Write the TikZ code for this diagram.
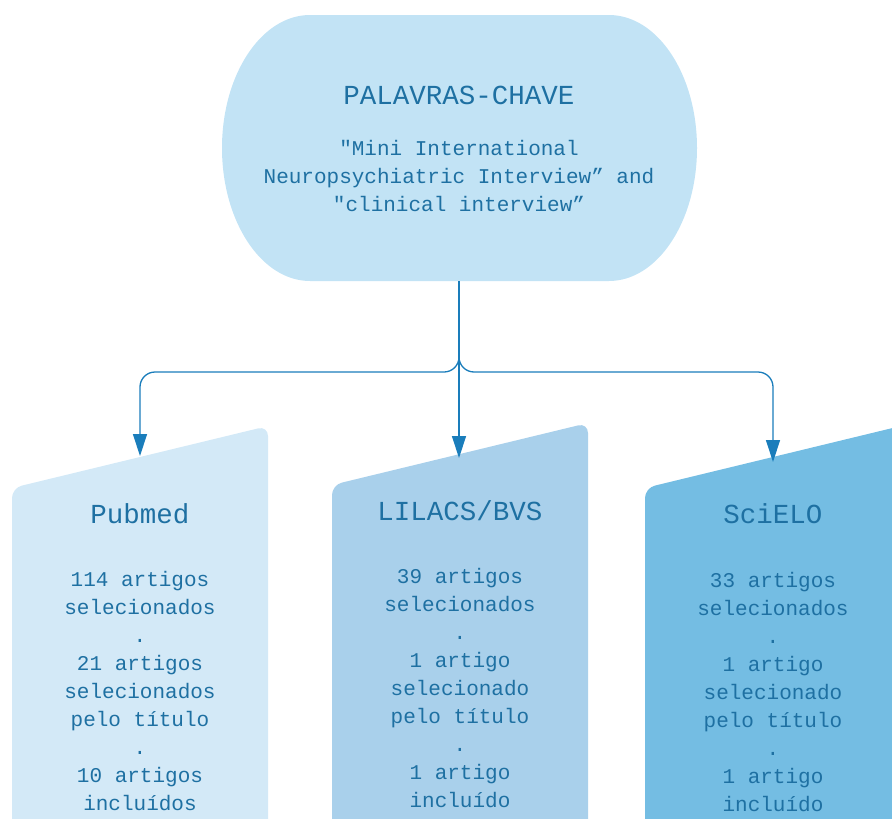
\documentclass[tikz,border=0pt]{standalone}
\usepackage{fontspec}
\newfontfamily\monof{Liberation Mono}
\usetikzlibrary{arrows.meta}
\definecolor{topfill}{HTML}{C2E3F5}
\definecolor{pubfill}{HTML}{D3E9F7}
\definecolor{lilfill}{HTML}{A9D0EB}
\definecolor{scifill}{HTML}{74BDE3}
\definecolor{txt}{HTML}{1E70A2}
\definecolor{arr}{HTML}{1A7DBB}
\tikzset{
  titletext/.style={text=txt, inner sep=0pt, anchor=base, font=\monof\fontsize{27.5}{32}\selectfont},
  bodytext/.style={text=txt, inner sep=0pt, anchor=base, align=center, font=\monof\fontsize{21}{28}\selectfont},
  conn/.style={draw=arr, line width=1.3pt, -{Triangle[length=22pt,width=14pt]}},
}
\begin{document}
\begin{tikzpicture}[x=1pt,y=-1pt]
\useasboundingbox (0,0) rectangle (892,819);
\begin{scope}
\clip (0,0) rectangle (892,819);
\fill[topfill] (310,15) -- (609,15)
  arc[start angle=-90, end angle=90, x radius=88, y radius=133]
  -- (310,281)
  arc[start angle=90, end angle=270, x radius=88, y radius=133] -- cycle;
\fill[pubfill, rounded corners=10pt] (12,488) -- (268,426) -- (268,850) -- (12,850) -- cycle;
\fill[lilfill, rounded corners=10pt] (332,485) -- (588,423) -- (588,850) -- (332,850) -- cycle;
\fill[scifill, rounded corners=10pt] (645,488) -- (905,425) -- (905,850) -- (645,850) -- cycle;
\end{scope}

\node[titletext] (kw) at (459,104) {PALAVRAS-CHAVE};
% base anchor = baseline of last line
\node[bodytext] (kwtext) at (459,211) {"Mini International\\Neuropsychiatric Interview” and\\"clinical interview”};

\node[titletext] (pubt) at (140,523) {Pubmed};
\node[bodytext] (pubb) at (140,810) {114 artigos\\selecionados\\.\\21 artigos\\selecionados\\pelo título\\.\\10 artigos\\incluídos};

\node[titletext] (lilt) at (460,520) {LILACS/BVS};
\node[bodytext] (lilb) at (460,807) {39 artigos\\selecionados\\.\\1 artigo\\selecionado\\pelo título\\.\\1 artigo\\incluído};

\node[titletext] (scit) at (773,523) {SciELO};
\node[bodytext] (scib) at (773,811) {33 artigos\\selecionados\\.\\1 artigo\\selecionado\\pelo título\\.\\1 artigo\\incluído};

\coordinate (topb) at (459,281);
\coordinate (j) at (459,372);
\coordinate (pubtip) at (140,456);
\coordinate (liltip) at (459,458);
\coordinate (scitip) at (773,462);
\draw[conn, rounded corners=15pt] (topb) -- (j) -| (pubtip);
\draw[conn, rounded corners=15pt] (topb) -- (j) -| (scitip);
\draw[conn] (topb) -- (liltip);
\end{tikzpicture}
\end{document}
